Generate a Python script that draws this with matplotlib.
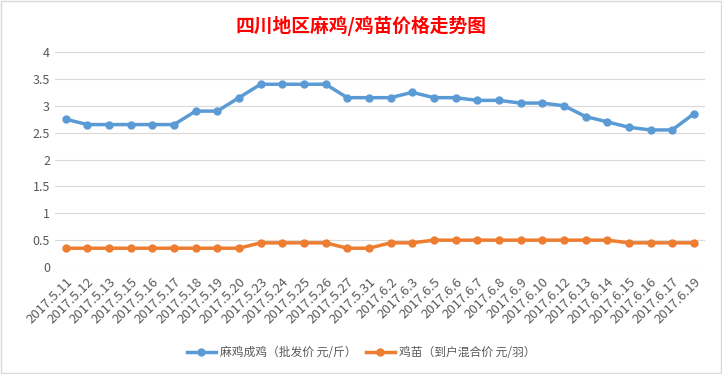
import matplotlib
matplotlib.use("Agg")
import matplotlib.pyplot as plt
from matplotlib.patches import Rectangle

plt.rcParams['font.family'] = ['Noto Sans CJK SC', 'DejaVu Sans']

# --- Datos ---
fechas = ["2017.5.11", "2017.5.12", "2017.5.13", "2017.5.15", "2017.5.16", "2017.5.17",
          "2017.5.18", "2017.5.19", "2017.5.20", "2017.5.23", "2017.5.24", "2017.5.25",
          "2017.5.26", "2017.5.27", "2017.5.31", "2017.6.2", "2017.6.3", "2017.6.5",
          "2017.6.6", "2017.6.7", "2017.6.8", "2017.6.9", "2017.6.10", "2017.6.12",
          "2017.6.13", "2017.6.14", "2017.6.15", "2017.6.16", "2017.6.17", "2017.6.19"]
macheng = [2.75, 2.65, 2.65, 2.65, 2.65, 2.65, 2.9, 2.9, 3.15, 3.4, 3.4, 3.4, 3.4, 3.15, 3.15,
           3.15, 3.25, 3.15, 3.15, 3.1, 3.1, 3.05, 3.05, 3.0, 2.8, 2.7, 2.6, 2.55, 2.55, 2.85]
jimiao = [0.35, 0.35, 0.35, 0.35, 0.35, 0.35, 0.35, 0.35, 0.35, 0.45, 0.45, 0.45, 0.45, 0.35, 0.35,
          0.45, 0.45, 0.5, 0.5, 0.5, 0.5, 0.5, 0.5, 0.5, 0.5, 0.5, 0.45, 0.45, 0.45, 0.45]
etiquetas = ["麻鸡成鸡（批发价 元/斤）", "鸡苗（到户混合价 元/羽）"]
titulo = "四川地区麻鸡/鸡苗价格走势图"

# --- Figura ---
fig = plt.figure(figsize=(7.22, 3.74), dpi=100)
ax = fig.add_axes([0.076, 0.286, 0.9, 0.575])

x = range(len(fechas))
ax.plot(x, macheng, color="#5b9bd5", lw=2.5, marker="o", ms=5, label=etiquetas[0])
ax.plot(x, jimiao, color="#ed7d31", lw=2.5, marker="o", ms=5, label=etiquetas[1])

ax.set_xlim(-0.5, len(fechas) - 0.5)
ax.set_ylim(0, 4)
ax.set_yticks([0, 0.5, 1, 1.5, 2, 2.5, 3, 3.5, 4])
ax.set_yticklabels(["0", "0.5", "1", "1.5", "2", "2.5", "3", "3.5", "4"])
ax.set_xticks(list(x))
ax.set_xticklabels(fechas, rotation=45, ha="right", rotation_mode="anchor")
ax.tick_params(axis="both", length=0, colors="#595959", labelsize=9)
ax.tick_params(axis="x", labelsize=9.5, pad=6)
ax.grid(axis="y", color="#d9d9d9", lw=0.8)
ax.set_axisbelow(True)
for s in ax.spines.values():
    s.set_visible(False)

fig.text(0.5, 0.93, titulo, color="red", fontsize=13.5, fontweight="bold",
         ha="center", va="center")

fig.legend(loc="center", bbox_to_anchor=(0.5, 0.058), ncol=2, frameon=False,
           fontsize=8.5, handlelength=2.5, columnspacing=0.8, handletextpad=0.3,
           labelcolor="#595959")

fig.add_artist(Rectangle((0.002, 0.003), 0.996, 0.994, transform=fig.transFigure,
                         fill=False, ec="#d9d9d9", lw=1))

fig.savefig("out.png", dpi=100)
